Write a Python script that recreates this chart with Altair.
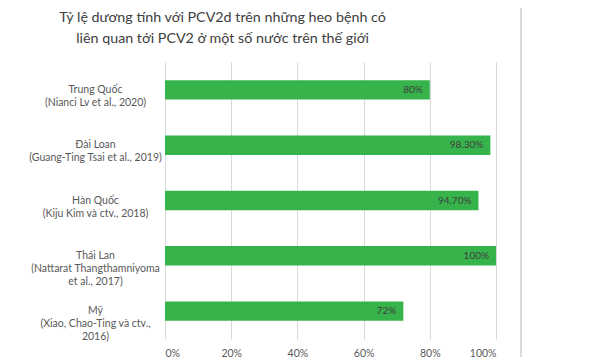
import altair as alt
import pandas as pd

categories = [
    "Trung Quốc\n(Nianci Lv et al., 2020)",
    "Đài Loan\n(Guang-Ting Tsai et al., 2019)",
    "Hàn Quốc\n(Kiju Kim và ctv., 2018)",
    "Thái Lan\n(Nattarat Thangthamniyoma\net al., 2017)",
    "Mỹ\n(Xiao, Chao-Ting và ctv.,\n2016)",
]
values = [80, 98.3, 94.7, 100, 72]
value_labels = ["80%", "98.30%", "94.70%", "100%", "72%"]
x_ticks = [0, 20, 40, 60, 80, 100]
title_lines = [
    "Tỷ lệ dương tính với PCV2d trên những heo bệnh có",
    "liên quan tới PCV2 ở một số nước trên thế giới",
]

df = pd.DataFrame({"cat": categories, "value": values, "label": value_labels})

FONT = "Lato"
GREEN = "#36b34a"

y_enc = alt.Y(
    "cat:N",
    sort=categories,
    title=None,
    scale=alt.Scale(paddingInner=0.65, paddingOuter=0.33),
    axis=alt.Axis(
        labelExpr="split(datum.label, '\\n')",
        labelAlign="center",
        labelPadding=70,
        labelFont=FONT,
        labelFontSize=10.5,
        labelColor="#595959",
        labelLineHeight=13,
        ticks=False,
        domain=False,
        grid=False,
    ),
)
x_enc = alt.X(
    "value:Q",
    title=None,
    scale=alt.Scale(domain=[0, 100], nice=False),
    axis=alt.Axis(
        values=x_ticks,
        labelExpr="datum.value + '%'",
        labelFont=FONT,
        labelFontSize=10.5,
        labelColor="#595959",
        labelPadding=9,
        ticks=False,
        domain=False,
        grid=True,
        gridColor="#d9d9d9",
        gridWidth=1,
    ),
)

bars = alt.Chart(df).mark_bar(color=GREEN).encode(x=x_enc, y=y_enc)
texts = alt.Chart(df).mark_text(
    align="right", baseline="middle", dx=-7, font=FONT, fontSize=10, color="#404040"
).encode(x="value:Q", y=alt.Y("cat:N", sort=categories), text="label:N")
border = alt.Chart(df).mark_rule(color="#d9d9d9", strokeWidth=1, clip=False).encode(
    x=alt.value(356), y=alt.value(-62), y2=alt.value(301)
)

chart = (
    alt.layer(bars, texts, border)
    .properties(
        width=331,
        height=277,
        autosize=alt.AutoSizeParams(type="none"),
        padding={"left": 157, "top": 54, "right": 96, "bottom": 18},
        title=alt.TitleParams(
            text=title_lines,
            font=FONT,
            fontSize=14.3,
            fontWeight="normal",
            color="#404040",
            anchor="middle",
            dx=-108,
            offset=-47,
            lineHeight=21,
        ),
    )
    .configure_view(stroke=None)
)

chart.save("out.html", embed_options={"renderer": "svg", "actions": False})
